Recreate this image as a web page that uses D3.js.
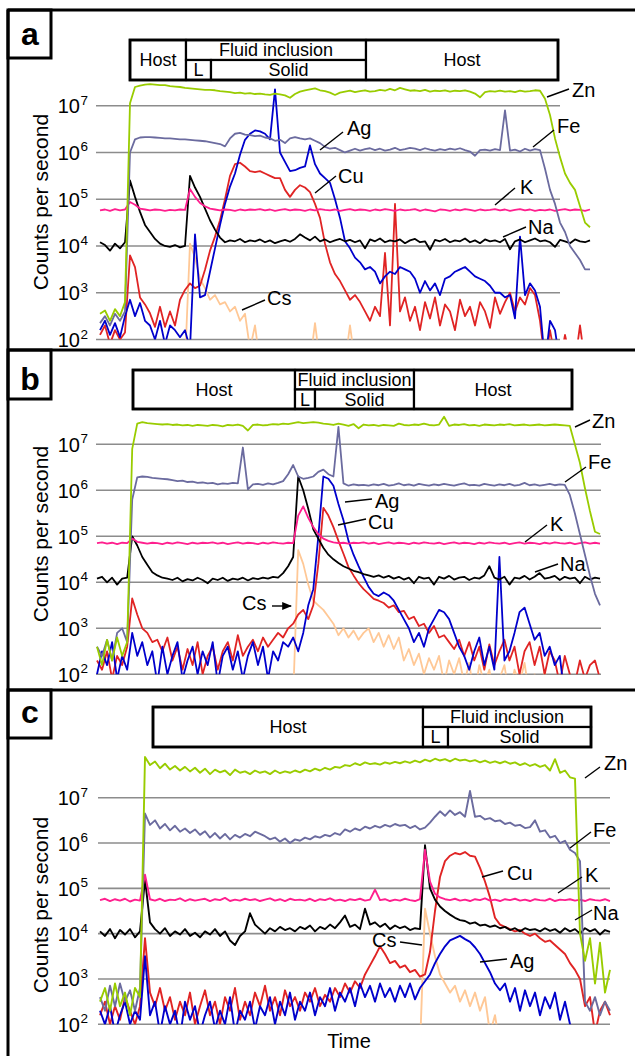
<!DOCTYPE html>
<html>
<head>
<meta charset="utf-8">
<script src="https://cdn.jsdelivr.net/npm/d3@7"></script>
<style>
  body { margin: 0; background: #fff; }
  svg { display: block; font-family: "Liberation Sans", Arial, Helvetica, sans-serif; }
</style>
</head>
<body>
<script>
// drawing order, bottom to top
var elements = ["Cs", "Cu", "Ag", "Na", "K", "Fe", "Zn"];
var colors = {Zn: "#99cc00", Fe: "#6b6b9f", Ag: "#0000cc", Cu: "#e02424", K: "#ff1f8e", Na: "#000000", Cs: "#ffc896"};
var decades = [2, 3, 4, 5, 6, 7];

// values are log10(counts per second), one per time step

// ---- panel a ----
var znA = [
  2.55, 2.62, 2.4, 2.65, 2.5, 2.8, 7.05, 7.4, 7.43, 7.45,
  7.46, 7.45, 7.44, 7.44, 7.42, 7.41, 7.4, 7.38, 7.37, 7.36,
  7.35, 7.34, 7.34, 7.33, 7.31, 7.3, 7.29, 7.27, 7.28, 7.26,
  7.27, 7.25, 7.26, 7.24, 7.23, 7.26, 7.24, 7.22, 7.17, 7.25,
  7.3, 7.33, 7.35, 7.37, 7.33, 7.31, 7.28, 7.23, 7.28, 7.3,
  7.32, 7.29, 7.31, 7.33, 7.3, 7.31, 7.34, 7.32, 7.36, 7.33,
  7.38, 7.35, 7.32, 7.33, 7.31, 7.34, 7.3, 7.32, 7.31, 7.33,
  7.3, 7.32, 7.31, 7.33, 7.3, 7.26, 7.18, 7.29, 7.31, 7.3,
  7.32, 7.3, 7.31, 7.29, 7.32, 7.3, 7.31, 7.33, 7.32, 7.15,
  6.8, 6.3, 5.9, 5.55, 5.35, 5.2, 4.85, 4.5, 4.4];
var feA = [
  2.35, 2.5, 2.3, 2.55, 2.4, 2.6, 6.0, 6.28, 6.32, 6.33,
  6.33, 6.32, 6.31, 6.3, 6.3, 6.29, 6.28, 6.28, 6.27, 6.26,
  6.25, 6.24, 6.22, 6.2, 6.18, 6.13, 6.3, 6.4, 6.42, 6.38,
  6.37, 6.35, 6.36, 6.32, 6.3, 6.25, 6.27, 6.2, 6.3, 6.33,
  6.3, 6.28, 6.3, 6.25, 6.2, 6.12, 6.08, 6.1, 6.05, 6.0,
  6.04, 6.08, 6.04, 6.07, 6.09, 6.05, 6.08, 6.04, 6.06, 6.1,
  6.05, 6.07, 6.1, 6.08, 6.05, 6.09, 6.06, 6.04, 6.07, 6.05,
  6.08, 6.06, 6.09, 6.05, 6.02, 5.93, 6.05, 6.06, 6.04, 6.07,
  6.05, 6.9, 6.04, 6.06, 6.02, 6.08, 6.04, 6.07, 6.05, 5.65,
  5.2, 4.9, 4.5, 4.3, 4.0, 3.85, 3.7, 3.5, 3.5];
var agA = [
  2.2, 2.4, 2.1, 2.35, 2.05, 2.5, 2.85, 2.5, 2.78, 2.4,
  2.3, 2.0, 2.4, 1.9, 2.3, 2.2, 2.05, 2.2, 1.8, 4.25,
  2.9, 2.95, 3.45, 3.95, 4.45, 4.9, 5.27, 5.55, 5.95, 6.27,
  6.4, 6.47, 6.45, 6.4, 6.28, 7.35, 6.0, 5.8, 5.6, 5.62,
  5.67, 5.7, 6.15, 5.75, 5.55, 5.45, 5.35, 5.0, 4.6, 4.1,
  3.95, 3.75, 3.65, 3.5, 3.55, 3.45, 3.2, 3.35, 3.45, 3.4,
  3.55, 3.5, 3.45, 3.3, 3.0, 3.25, 3.05, 3.2, 2.95, 3.3,
  3.35, 3.45, 3.5, 3.55, 3.45, 3.35, 3.3, 3.25, 3.15, 3.0,
  3.0, 2.9, 2.95, 2.45, 4.2, 2.95, 3.2, 3.05, 2.7, 1.5,
  2.4, 2.2, 1.5, 1.5, 1.5, 1.5, 1.5, 1.5, 1.5];
var cuA = [
  2.1, 2.3, 1.9, 2.2, 2.0, 2.15, 3.8, 3.55, 2.9, 2.75,
  2.56, 2.27, 2.7, 2.27, 2.6, 2.3, 2.85, 3.06, 3.2, 3.1,
  3.15, 3.49, 3.9, 4.2, 4.55, 5.0, 5.5, 5.75, 5.78, 5.7,
  5.6, 5.58, 5.6, 5.55, 5.5, 5.45, 5.45, 5.2, 5.05, 5.2,
  5.3, 5.25, 5.15, 4.9, 4.6, 4.05, 3.65, 3.4, 3.25, 3.05,
  2.85, 2.95, 2.8, 2.6, 2.4, 2.7, 2.5, 3.85, 2.3, 4.9,
  2.6, 2.9, 2.4, 2.7, 2.2, 2.8, 2.45, 2.9, 2.3, 2.75,
  2.6, 2.2, 2.85, 2.5, 2.7, 2.3, 2.8, 2.6, 2.25, 2.9,
  2.55, 2.8, 3.0, 2.6, 2.9, 2.75, 3.1, 2.95, 2.4, 1.5,
  2.2, 1.6, 1.5, 2.1, 1.6, 1.5, 2.3, 1.5, 1.5];
var kA = [
  4.76, 4.78, 4.75, 4.79, 4.76, 4.78, 4.94, 4.88, 4.8, 4.78,
  4.76, 4.78, 4.77, 4.75, 4.77, 4.76, 4.78, 4.77, 5.22, 5.05,
  4.92, 4.85, 4.8, 4.78, 4.76, 4.78, 4.77, 4.75, 4.78, 4.76,
  4.78, 4.77, 4.79, 4.76, 4.78, 4.75, 4.77, 4.79, 4.76, 4.78,
  4.77, 4.75, 4.78, 4.76, 4.79, 4.77, 4.76, 4.78, 4.75, 4.77,
  4.79, 4.76, 4.78, 4.77, 4.75, 4.78, 4.76, 4.79, 4.77, 4.75,
  4.78, 4.76, 4.77, 4.79, 4.75, 4.78, 4.76, 4.74, 4.78, 4.77,
  4.75, 4.78, 4.76, 4.79, 4.77, 4.75, 4.78, 4.76, 4.77, 4.79,
  4.76, 4.78, 4.75, 4.77, 4.79, 4.76, 4.78, 4.75, 4.77, 4.76,
  4.78, 4.75, 4.77, 4.79, 4.76, 4.78, 4.77, 4.75, 4.78];
var naA = [
  4.08, 4.02, 3.9, 4.05, 3.95, 4.08, 5.4, 5.05, 4.73, 4.45,
  4.3, 4.15, 4.05, 4.0, 3.98, 4.02, 3.97, 4.0, 5.5, 5.25,
  5.05, 4.8, 4.55, 4.35, 4.18, 4.08, 4.12, 4.1, 4.15, 4.08,
  4.12, 4.1, 4.14, 4.08, 4.12, 4.06, 4.1, 4.13, 4.09, 4.15,
  4.25, 4.18, 4.12, 4.2, 4.1, 4.14, 4.08, 4.12, 4.15, 4.1,
  4.13, 4.08, 4.12, 3.95, 4.14, 4.1, 4.16, 4.08, 4.12, 4.1,
  4.14, 4.06, 4.12, 4.15, 4.08, 4.1, 3.92, 4.13, 4.1, 4.15,
  4.08, 4.12, 4.1, 4.16, 4.08, 4.12, 4.06, 4.14, 4.1, 4.12,
  4.08, 4.15, 3.93, 4.1, 4.14, 4.08, 4.12, 4.16, 4.1, 4.12,
  4.08, 3.98, 4.13, 4.1, 4.06, 4.14, 4.1, 4.08, 4.12];
var csA = [
  1.5, 1.5, 1.5, 1.5, 1.5, 1.5, 1.5, 1.5, 1.5, 1.5,
  1.5, 1.5, 1.5, 1.5, 1.5, 1.5, 1.5, 1.5, 4.05, 3.75,
  3.3, 3.1, 2.85, 2.95, 2.75, 2.8, 2.6, 2.7, 2.4, 2.55,
  1.8, 2.3, 1.5, 1.5, 1.5, 1.5, 1.5, 1.5, 1.5, 1.5,
  1.5, 1.5, 1.5, 2.35, 1.5, 1.5, 1.5, 1.5, 1.5, 1.5,
  2.3, 1.5, 1.5, 1.5, 1.5, 1.5, 1.5, 1.5, 1.5, 1.5,
  1.5, 1.5, 1.5, 1.5, 1.5, 1.5, 1.5, 1.5, 1.5, 1.5,
  1.5, 1.5, 1.5, 1.5, 1.5, 1.5, 1.5, 1.5, 1.5, 1.5,
  1.5, 1.5, 1.5, 1.5, 1.5, 1.5, 1.5, 1.5, 1.5, 1.5,
  1.5, 1.5, 1.5, 1.5, 1.5, 1.5, 1.5, 1.5, 1.5];

// ---- panel b ----
var znB = [
  2.6, 2.2, 2.75, 2.3, 2.8, 2.4, 2.7, 6.9, 7.45, 7.48,
  7.46, 7.45, 7.44, 7.43, 7.44, 7.42, 7.43, 7.41, 7.42, 7.4,
  7.42, 7.41, 7.4, 7.42, 7.41, 7.39, 7.42, 7.41, 7.43, 7.4,
  7.3, 7.42, 7.43, 7.41, 7.42, 7.44, 7.43, 7.45, 7.44, 7.46,
  7.48, 7.46, 7.47, 7.48, 7.47, 7.45, 7.44, 7.42, 7.45, 7.43,
  7.4, 7.44, 7.35, 7.43, 7.41, 7.42, 7.4, 7.42, 7.41, 7.4,
  7.45, 7.42, 7.41, 7.43, 7.42, 7.45, 7.42, 7.41, 7.43, 7.6,
  7.4, 7.43, 7.42, 7.44, 7.41, 7.42, 7.4, 7.43, 7.42, 7.41,
  7.43, 7.42, 7.44, 7.41, 7.42, 7.43, 7.41, 7.42, 7.43, 7.41,
  7.42, 7.43, 7.42, 7.41, 7.4, 7.0, 6.6, 6.05, 5.55, 5.1,
  5.05];
var feB = [
  2.6, 2.4, 2.75, 2.3, 2.9, 3.0, 2.7, 5.8, 6.28, 6.3,
  6.29, 6.27, 6.26, 6.25, 6.24, 6.22, 6.2, 6.21, 6.18, 6.19,
  6.16, 6.17, 6.15, 6.16, 6.13, 6.15, 6.14, 6.16, 6.15, 6.93,
  6.02, 6.13, 6.14, 6.12, 6.15, 6.13, 6.16, 6.2, 6.35, 6.55,
  6.3, 6.25, 6.27, 6.3, 6.4, 6.45, 6.35, 6.3, 7.38, 6.15,
  6.1, 6.13, 6.11, 6.12, 6.1, 6.13, 6.11, 6.14, 6.1, 6.12,
  6.15, 6.11, 6.13, 6.1, 6.14, 6.12, 6.1, 6.13, 6.11, 6.14,
  6.12, 6.1, 6.13, 6.15, 6.11, 6.12, 6.1, 6.14, 6.12, 6.1,
  6.13, 6.11, 6.14, 6.1, 6.12, 6.16, 6.11, 6.13, 6.1, 6.12,
  6.14, 6.11, 6.13, 6.12, 5.9, 5.5, 5.05, 4.6, 4.15, 3.75,
  3.5];
var agB = [
  2.0, 2.5, 2.2, 2.7, 1.9, 2.4, 2.1, 2.9, 2.4, 2.7,
  2.2, 2.5, 1.8, 2.6, 2.0, 2.4, 2.7, 1.9, 2.3, 2.6,
  2.0, 2.5, 2.2, 2.7, 1.8, 2.4, 2.6, 2.1, 2.5, 1.9,
  2.4, 2.7, 2.2, 2.6, 1.9, 2.5, 2.3, 2.7, 2.6, 2.8,
  2.5, 2.9, 3.5, 3.85, 5.0, 6.3, 6.25, 6.1, 5.7, 5.35,
  4.9, 4.6, 4.35, 4.12, 3.9, 3.75, 3.7, 3.78, 3.72, 3.6,
  3.4, 3.2, 3.0, 2.7, 2.9, 2.6, 3.0, 3.2, 3.4, 3.35,
  3.2, 2.9, 2.6, 2.4, 2.1, 2.5, 2.8, 2.2, 2.6, 2.1,
  4.55, 2.3, 2.5, 2.9, 3.35, 3.45, 3.1, 2.75, 2.9, 2.4,
  2.6, 2.2, 2.4, 1.5, 1.5, 1.5, 1.5, 1.5, 1.5, 1.5,
  1.5];
var cuB = [
  2.3, 2.1, 2.5, 1.9, 2.4, 2.2, 2.6, 3.65, 3.3, 3.0,
  2.9, 2.7, 2.75, 2.5, 2.8, 2.3, 2.6, 2.1, 2.55, 2.2,
  2.7, 2.0, 2.4, 2.6, 2.1, 2.5, 2.7, 2.3, 2.85, 2.4,
  2.6, 2.75, 2.5, 2.8, 2.6, 2.75, 2.9, 2.8, 3.0, 3.1,
  3.3, 3.4, 3.2, 3.5, 4.4, 5.62, 5.45, 5.2, 4.9, 4.62,
  4.33, 4.15, 3.98, 3.85, 3.75, 3.64, 3.6, 3.55, 3.45, 3.5,
  3.35, 3.38, 3.2, 3.25, 3.05, 3.1, 2.9, 3.05, 2.8, 2.85,
  2.7, 2.55, 2.75, 2.4, 2.7, 2.3, 2.6, 2.1, 2.65, 2.2,
  2.5, 2.75, 2.3, 2.6, 2.0, 2.5, 2.7, 2.2, 2.6, 2.0,
  2.5, 2.3, 1.8, 2.4, 2.0, 1.8, 2.3, 1.9, 2.2, 2.3,
  1.9];
var kB = [
  4.85, 4.87, 4.84, 4.86, 4.83, 4.86, 4.85, 4.95, 4.88, 4.86,
  4.84, 4.86, 4.85, 4.83, 4.86, 4.84, 4.87, 4.85, 4.83, 4.86,
  4.84, 4.86, 4.85, 4.87, 4.84, 4.86, 4.83, 4.85, 4.87, 4.84,
  4.86, 4.85, 4.83, 4.86, 4.84, 4.87, 4.85, 4.84, 4.86, 4.85,
  5.45, 5.65, 5.4, 5.2, 5.05, 4.95, 4.9, 4.87, 4.85, 4.86,
  4.84, 4.86, 4.85, 4.87, 4.84, 4.86, 4.83, 4.85, 4.87, 4.84,
  4.86, 4.85, 4.83, 4.86, 4.84, 4.87, 4.85, 4.84, 4.86, 4.83,
  4.85, 4.87, 4.84, 4.86, 4.85, 4.83, 4.86, 4.84, 4.87, 4.85,
  4.84, 4.86, 4.83, 4.85, 4.87, 4.84, 4.86, 4.85, 4.83, 4.86,
  4.84, 4.87, 4.85, 4.84, 4.86, 4.83, 4.85, 4.87, 4.84, 4.86,
  4.84];
var naB = [
  4.08, 4.12, 4.0, 4.1, 3.95, 4.08, 4.1, 5.0, 4.8, 4.55,
  4.38, 4.22, 4.15, 4.1, 4.08, 4.05, 4.1, 4.02, 4.07, 4.04,
  4.1, 4.05, 3.98, 4.08, 4.05, 4.1, 4.03, 4.08, 4.06, 4.1,
  4.04, 4.09, 4.07, 4.1, 4.08, 4.12, 4.1, 4.2, 4.35, 4.55,
  6.3, 6.0, 5.6, 5.15, 4.95, 4.75, 4.6, 4.5, 4.42, 4.35,
  4.3, 4.25, 4.22, 4.18, 4.15, 4.12, 4.15, 4.1, 4.14, 4.08,
  4.12, 4.06, 4.1, 3.98, 4.12, 4.08, 4.1, 3.95, 4.12, 4.08,
  4.14, 4.06, 4.1, 4.12, 4.05, 4.1, 4.08, 4.15, 4.35, 4.1,
  4.06, 4.12, 3.95, 4.1, 4.08, 4.14, 4.06, 4.12, 4.2, 4.08,
  4.1, 4.14, 4.05, 4.12, 4.08, 4.1, 3.98, 4.12, 4.06, 4.1,
  4.08];
var csB = [
  1.5, 1.5, 1.5, 1.5, 1.5, 1.5, 1.5, 1.5, 1.5, 1.5,
  1.5, 1.5, 1.5, 1.5, 1.5, 1.5, 1.5, 1.5, 1.5, 1.5,
  1.5, 1.5, 1.5, 1.5, 1.5, 1.5, 1.5, 1.5, 1.5, 1.5,
  1.5, 1.5, 1.5, 1.5, 1.5, 1.5, 1.5, 1.5, 1.5, 1.5,
  4.7, 4.4, 3.95, 3.6, 3.5, 3.4, 3.25, 3.1, 2.85, 3.0,
  2.8, 2.95, 2.75, 2.9, 3.0, 2.7, 2.9, 2.6, 2.85, 2.55,
  2.8, 2.3, 2.55, 2.2, 2.45, 2.0, 2.35, 2.1, 2.4, 1.8,
  2.3, 2.0, 2.35, 1.8, 2.25, 1.5, 2.2, 1.8, 2.1, 1.5,
  1.9, 2.2, 1.5, 2.1, 1.8, 2.25, 1.5, 2.0, 1.5, 2.1,
  1.5, 1.8, 1.5, 1.5, 1.5, 1.5, 1.5, 1.5, 1.5, 1.5,
  1.5];

// ---- panel c ----
var znC = [
  2.5, 2.8, 2.3, 2.9, 2.4, 2.7, 2.2, 2.8, 2.6, 7.9,
  7.72, 7.8, 7.65, 7.75, 7.62, 7.7, 7.6, 7.68, 7.58, 7.66,
  7.55, 7.64, 7.52, 7.62, 7.56, 7.6, 7.5, 7.62, 7.55, 7.58,
  7.52, 7.6, 7.55, 7.58, 7.52, 7.6, 7.54, 7.58, 7.55, 7.6,
  7.56, 7.62, 7.58, 7.64, 7.6, 7.66, 7.62, 7.68, 7.66, 7.72,
  7.7, 7.76, 7.72, 7.78, 7.74, 7.76, 7.73, 7.78, 7.75, 7.79,
  7.76, 7.8, 7.77, 7.82, 7.78, 7.84, 7.8, 7.86, 7.82, 7.85,
  7.8, 7.86, 7.82, 7.84, 7.8, 7.83, 7.78, 7.82, 7.77, 7.8,
  7.76, 7.8, 7.75, 7.78, 7.72, 7.76, 7.7, 7.74, 7.68, 7.72,
  7.6, 7.85, 7.55, 7.6, 7.45, 7.42, 4.0, 3.4, 3.9, 2.9,
  3.8, 2.7, 3.2];
var feC = [
  2.6, 2.3, 2.85, 2.4, 2.9, 2.5, 2.75, 2.3, 2.8, 6.65,
  6.4, 6.5, 6.32, 6.42, 6.28, 6.38, 6.25, 6.32, 6.22, 6.3,
  6.18, 6.26, 6.12, 6.22, 6.1, 6.2, 6.08, 6.18, 6.12, 6.2,
  6.15, 6.25, 6.2, 6.15, 6.08, 6.12, 6.03, 6.1, 6.0, 6.08,
  6.05, 6.12, 6.08, 6.15, 6.12, 6.18, 6.15, 6.22, 6.18, 6.3,
  6.25, 6.32, 6.28, 6.36, 6.32, 6.38, 6.34, 6.4, 6.36, 6.42,
  6.38, 6.4, 6.33, 6.38, 6.3, 6.34, 6.45, 6.58, 6.7, 6.6,
  6.72, 6.62, 6.68, 6.58, 7.15, 6.58, 6.6, 6.52, 6.55, 6.48,
  6.5, 6.42, 6.45, 6.38, 6.4, 6.33, 6.35, 6.5, 6.25, 6.28,
  6.12, 6.16, 6.0, 6.05, 5.85, 5.78, 5.6, 2.5, 2.3, 2.6,
  2.2, 2.5, 2.3];
var agC = [
  2.3, 2.0, 2.4, 1.8, 2.2, 2.5, 2.0, 2.3, 2.1, 3.5,
  2.2, 2.5, 1.8, 2.4, 2.0, 2.3, 1.7, 2.5, 2.1, 2.4,
  1.8, 2.2, 2.5, 1.9, 2.3, 2.0, 2.6, 1.8, 2.3, 2.1,
  2.5, 1.9, 2.4, 2.2, 2.6, 2.0, 2.5, 2.2, 2.7, 2.1,
  2.5, 2.3, 2.7, 2.2, 2.6, 2.4, 2.8, 2.3, 2.7, 2.5,
  2.8, 2.4, 2.9, 2.6, 2.85, 2.5, 2.9, 2.6, 2.8, 2.5,
  2.85, 2.6, 2.9, 2.55, 2.8, 2.95, 3.1, 3.35, 3.55, 3.72,
  3.85, 3.9, 3.95, 3.88, 3.82, 3.7, 3.55, 3.35, 3.15, 2.9,
  2.75, 2.9, 2.5, 2.8, 2.3, 2.75, 2.4, 2.7, 2.2, 2.6,
  2.35, 2.7, 2.1, 2.5, 2.0, 1.8, 1.5, 1.5, 1.5, 1.5,
  1.5, 1.5, 1.5];
var cuC = [
  2.2, 2.5, 2.0, 2.4, 2.1, 2.6, 2.3, 2.0, 2.4, 3.9,
  2.7, 2.4, 2.8, 2.3, 2.6, 2.1, 2.5, 2.2, 2.7, 2.0,
  2.4, 2.75, 2.2, 2.5, 2.0, 2.6, 2.3, 2.8, 2.1, 2.5,
  2.2, 2.7, 2.4, 2.85, 2.3, 2.6, 2.2, 2.75, 2.4, 2.6,
  2.3, 2.7, 2.5, 2.8, 2.4, 2.65, 2.5, 2.8, 2.6, 2.9,
  2.7, 2.95, 2.8, 3.1, 3.3, 3.5, 3.72, 3.55, 3.35, 3.4,
  3.25, 3.3, 3.15, 3.2, 3.05, 3.1, 3.6, 4.5, 5.25, 5.6,
  5.72, 5.78, 5.75, 5.8, 5.72, 5.7, 5.45, 5.15, 4.8, 4.35,
  4.2, 4.15, 4.1, 4.05, 4.08, 4.0, 3.95, 4.0, 3.9, 3.82,
  3.85, 3.75, 3.65, 3.55, 3.35, 3.2, 3.0, 2.4, 2.6, 1.8,
  2.3, 2.5, 2.2];
var kC = [
  4.74, 4.77, 4.72, 4.76, 4.73, 4.77, 4.71, 4.75, 4.73, 5.3,
  4.76, 4.73, 4.77, 4.72, 4.75, 4.74, 4.78, 4.72, 4.76, 4.73,
  4.75, 4.77, 4.72, 4.76, 4.74, 4.79, 4.72, 4.75, 4.73, 4.77,
  4.74, 4.76, 4.72, 4.75, 4.78, 4.73, 4.76, 4.72, 4.77, 4.74,
  4.75, 4.73, 4.77, 4.72, 4.76, 4.74, 4.78, 4.73, 4.75, 4.72,
  4.76, 4.74, 4.77, 4.73, 4.75, 4.97, 4.74, 4.76, 4.72, 4.75,
  4.73, 4.77, 4.74, 4.72, 4.76, 5.85, 5.15, 4.88, 4.8, 4.76,
  4.74, 4.77, 4.73, 4.75, 4.72, 4.76, 4.74, 4.78, 4.73, 4.75,
  4.72, 4.76, 4.74, 4.77, 4.73, 4.75, 4.72, 4.76, 4.74, 4.73,
  4.77, 4.72, 4.75, 4.74, 4.76, 4.73, 4.75, 4.72, 4.76, 4.74,
  4.73, 4.76, 4.72];
var naC = [
  4.05, 3.95, 4.1, 3.9, 4.08, 3.98, 4.1, 3.92, 4.05, 5.2,
  4.25, 4.1, 4.0, 4.12, 3.95, 4.05, 3.98, 4.1, 3.95, 4.02,
  3.92, 4.05, 3.98, 4.1, 3.95, 4.05, 3.85, 3.75, 3.95, 4.05,
  4.45, 4.2, 4.1, 4.0, 4.12, 4.05, 4.15, 4.08, 4.12, 4.05,
  4.15, 4.1, 4.18, 4.05, 4.15, 4.1, 4.2, 4.12, 4.25, 4.4,
  4.15, 4.2, 4.1, 4.55, 4.2, 4.25, 4.15, 4.22, 4.1, 4.18,
  4.12, 4.16, 4.08, 4.12, 4.1, 5.95, 5.0, 4.75, 4.6, 4.5,
  4.42, 4.35, 4.3, 4.28, 4.22, 4.25, 4.18, 4.2, 4.15, 4.18,
  4.12, 4.15, 4.08, 4.12, 4.05, 4.12, 4.08, 4.1, 4.05, 4.12,
  4.06, 4.1, 4.02, 4.12, 4.05, 4.1, 4.0, 4.12, 4.05, 4.1,
  3.98, 4.08, 4.04];
var csC = [
  1.5, 1.5, 1.5, 1.5, 1.5, 1.5, 1.5, 1.5, 1.5, 1.5,
  1.5, 1.5, 1.5, 1.5, 1.5, 1.5, 1.5, 1.5, 1.5, 1.5,
  1.5, 1.5, 1.5, 1.5, 1.5, 1.5, 1.5, 1.5, 1.5, 1.5,
  1.5, 1.5, 1.5, 1.5, 1.5, 1.5, 1.5, 1.5, 1.5, 1.5,
  1.5, 1.5, 1.5, 1.5, 1.5, 1.5, 1.5, 1.5, 1.5, 1.5,
  1.5, 1.5, 1.5, 1.5, 1.5, 1.5, 1.5, 1.5, 1.5, 1.5,
  1.5, 1.5, 1.5, 1.5, 1.5, 4.55, 4.0, 3.5, 3.1, 2.9,
  2.7, 2.85, 2.5, 2.75, 2.4, 2.7, 2.3, 2.6, 1.8, 2.2,
  1.5, 1.5, 1.5, 1.5, 1.5, 1.5, 1.5, 1.5, 1.5, 1.5,
  1.5, 1.5, 1.5, 1.5, 1.5, 1.5, 1.5, 1.5, 1.5, 1.5,
  1.5, 1.5, 1.5];

// layout of the three panels
var panels = [
  {letter: "a", top: 10, boxH: 48, letterY: 45,
   series: {Zn: znA, Fe: feA, Ag: agA, Cu: cuA, K: kA, Na: naA, Cs: csA},
   y7: 105.7, y2: 339.5, gridX: [96, 560], dataX: [100, 590], titleY: 202, lw: 1.8,
   header: {x0: 130, x1: 558, y0: 40, y1: 80, cells: [
     {label: "Host", x0: 130, x1: 186, row: "full"},
     {label: "Fluid inclusion", x0: 186, x1: 366, row: "top"},
     {label: "L", x0: 186, x1: 211, row: "bottom"},
     {label: "Solid", x0: 211, x1: 366, row: "bottom"},
     {label: "Host", x0: 366, x1: 558, row: "full"}]},
   labels: [
     {t: "Zn", x: 572, y: 97, l: [547, 97, 569, 89]},
     {t: "Fe", x: 557, y: 133, l: [533, 147, 554, 130]},
     {t: "Ag", x: 347, y: 135, l: [320, 150, 343, 132]},
     {t: "Cu", x: 338, y: 183, l: [315, 193, 336, 176]},
     {t: "K", x: 520, y: 194, l: [495, 205, 515, 188]},
     {t: "Na", x: 528, y: 234, l: [503, 237, 526, 227]},
     {t: "Cs", x: 267, y: 305, l: [242, 310, 265, 300]}]},
  {letter: "b", top: 350, boxH: 49, letterY: 390,
   series: {Zn: znB, Fe: feB, Ag: agB, Cu: cuB, K: kB, Na: naB, Cs: csB},
   y7: 444.3, y2: 674.3, gridX: [96, 601], dataX: [97, 600], titleY: 534, lw: 1.8,
   header: {x0: 133, x1: 572, y0: 370, y1: 409, cells: [
     {label: "Host", x0: 133, x1: 295, row: "full"},
     {label: "Fluid inclusion", x0: 295, x1: 414, row: "top"},
     {label: "L", x0: 295, x1: 315, row: "bottom"},
     {label: "Solid", x0: 315, x1: 414, row: "bottom"},
     {label: "Host", x0: 414, x1: 572, row: "full"}]},
   labels: [
     {t: "Zn", x: 592, y: 428, l: [575, 427, 590, 420]},
     {t: "Fe", x: 588, y: 469, l: [565, 482, 586, 467]},
     {t: "Ag", x: 375, y: 508, l: [345, 502, 372, 499]},
     {t: "Cu", x: 368, y: 529, l: [338, 525, 366, 519]},
     {t: "K", x: 550, y: 531, l: [525, 542, 547, 525]},
     {t: "Na", x: 560, y: 571, l: [535, 572, 558, 564]},
     {t: "Cs", x: 242, y: 610, l: [272, 606, 291, 606], arrow: true}]},
  {letter: "c", top: 690, boxH: 48, letterY: 723,
   series: {Zn: znC, Fe: feC, Ag: agC, Cu: cuC, K: kC, Na: naC, Cs: csC},
   y7: 797.7, y2: 1024.3, gridX: [98, 610], dataX: [100, 610], titleY: 905, lw: 1.9,
   header: {x0: 153, x1: 591, y0: 707, y1: 747, cells: [
     {label: "Host", x0: 153, x1: 423, row: "full"},
     {label: "Fluid inclusion", x0: 423, x1: 591, row: "top"},
     {label: "L", x0: 423, x1: 448, row: "bottom"},
     {label: "Solid", x0: 448, x1: 591, row: "bottom"}]},
   labels: [
     {t: "Zn", x: 604, y: 770, l: [585, 778, 600, 767]},
     {t: "Fe", x: 593, y: 837, l: [570, 848, 591, 832]},
     {t: "Cu", x: 507, y: 880, l: [482, 877, 503, 871]},
     {t: "K", x: 585, y: 882, l: [558, 893, 582, 877]},
     {t: "Na", x: 593, y: 920, l: [575, 920, 592, 910]},
     {t: "Cs", x: 372, y: 947, l: [400, 942, 422, 945]},
     {t: "Ag", x: 510, y: 968, l: [480, 962, 507, 959]}]}
];

var W = 635, H = 1056;
var svg = d3.select("body").append("svg").attr("width", W).attr("height", H);
var defs = svg.append("defs");
defs.append("marker").attr("id", "arrow")
    .attr("viewBox", "0 0 10 10").attr("refX", 9).attr("refY", 5)
    .attr("markerWidth", 7).attr("markerHeight", 7).attr("orient", "auto")
  .append("path").attr("d", "M0,1L10,5L0,9Z").attr("fill", "#000");

function drawPanel(p, pi) {
  var g = svg.append("g");
  var n = p.series.Zn.length;
  var x = d3.scaleLinear().domain([0, n - 1]).range(p.dataX);
  var y = d3.scaleLog().domain([1e2, 1e7]).range([p.y2, p.y7]);

  // grid
  g.selectAll("line.grid").data(decades).enter().append("line")
      .attr("x1", p.gridX[0]).attr("x2", p.gridX[1])
      .attr("y1", function(e) { return y(Math.pow(10, e)); })
      .attr("y2", function(e) { return y(Math.pow(10, e)); })
      .attr("stroke", "#8c8c8c").attr("stroke-width", 1.6);

  // tick labels 10^n
  decades.forEach(function(e) {
    var yy = y(Math.pow(10, e));
    g.append("text").attr("x", 80).attr("y", yy + 7.5).attr("text-anchor", "end")
        .style("font-size", "20px").text("10");
    g.append("text").attr("x", 80.5).attr("y", yy - 1).style("font-size", "13.5px").text(e);
  });

  // axis title
  g.append("text").attr("transform", "translate(48," + p.titleY + ") rotate(-90)")
      .attr("text-anchor", "middle").style("font-size", "21px").text("Counts per second");

  // data lines
  var clipId = "clip" + pi;
  defs.append("clipPath").attr("id", clipId).append("rect")
      .attr("x", p.dataX[0] - 2).attr("y", p.header.y1 + 2)
      .attr("width", p.dataX[1] - p.dataX[0] + 4).attr("height", p.y2 - p.header.y1 - 2);
  var line = d3.line()
      .x(function(d, i) { return x(i); })
      .y(function(d) { return y(Math.pow(10, d)); });
  var lg = g.append("g").attr("clip-path", "url(#" + clipId + ")");
  elements.forEach(function(el) {
    lg.append("path").datum(p.series[el])
        .attr("d", line).attr("fill", "none")
        .attr("stroke", colors[el]).attr("stroke-width", p.lw)
        .attr("stroke-linejoin", "round");
  });

  // header boxes
  var h = p.header, ym = (h.y0 + h.y1) / 2;
  h.cells.forEach(function(c) {
    var t = c.row === "bottom" ? ym : h.y0;
    var b = c.row === "top" ? ym : h.y1;
    g.append("rect").attr("x", c.x0).attr("y", t).attr("width", c.x1 - c.x0).attr("height", b - t)
        .attr("fill", "#fff").attr("stroke", "#000").attr("stroke-width", 2.2);
    g.append("text").attr("x", (c.x0 + c.x1) / 2).attr("y", (t + b) / 2 + 6.3)
        .attr("text-anchor", "middle").style("font-size", "18px").text(c.label);
  });
  g.append("rect").attr("x", h.x0).attr("y", h.y0).attr("width", h.x1 - h.x0).attr("height", h.y1 - h.y0)
      .attr("fill", "none").attr("stroke", "#000").attr("stroke-width", 2.8);

  // element labels
  p.labels.forEach(function(lb) {
    g.append("line").attr("x1", lb.l[0]).attr("y1", lb.l[1]).attr("x2", lb.l[2]).attr("y2", lb.l[3])
        .attr("stroke", "#000").attr("stroke-width", 1.4)
        .attr("marker-end", lb.arrow ? "url(#arrow)" : null);
    g.append("text").attr("x", lb.x).attr("y", lb.y).style("font-size", "20px").text(lb.t);
  });

  // letter box
  g.append("rect").attr("x", 8).attr("y", p.top).attr("width", 43).attr("height", p.boxH)
      .attr("fill", "#fff").attr("stroke", "#000").attr("stroke-width", 3);
  g.append("text").attr("x", 30).attr("y", p.letterY).attr("text-anchor", "middle")
      .style("font-size", "32px").style("font-weight", "bold").text(p.letter);
}

panels.forEach(drawPanel);

// outer frame and separators
var frame = svg.append("g").attr("stroke", "#000").attr("stroke-width", 3);
frame.append("line").attr("x1", 8).attr("x2", W).attr("y1", 10).attr("y2", 10);
frame.append("line").attr("x1", 8).attr("x2", 8).attr("y1", 10).attr("y2", H);
frame.append("line").attr("x1", 8).attr("x2", W).attr("y1", 350).attr("y2", 350);
frame.append("line").attr("x1", 8).attr("x2", W).attr("y1", 690).attr("y2", 690);

svg.append("text").attr("x", 349).attr("y", 1048).attr("text-anchor", "middle")
    .style("font-size", "20px").text("Time");
</script>
</body>
</html>
